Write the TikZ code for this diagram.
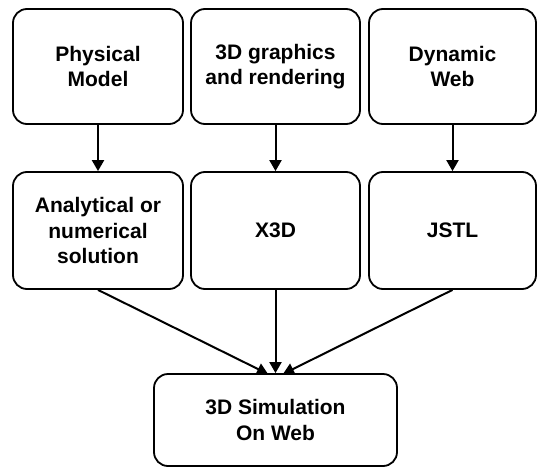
\documentclass[tikz,border=0pt]{standalone}
\usepackage{fontspec}
\setmainfont{Liberation Sans}
\usetikzlibrary{arrows.meta}
\begin{document}
\begin{tikzpicture}[x=1pt,y=-1pt,
  box/.style={draw, line width=1.8pt, rounded corners=14pt, align=center,
    font=\fontsize{21}{25.5}\selectfont\bfseries, inner sep=0pt},
  toprow/.style={box, minimum height=115pt},
  midrow/.style={box, minimum height=117pt},
  link/.style={line width=2pt, -{Triangle[length=11pt,width=12pt]}}]
\useasboundingbox (0,0) rectangle (537,468);

% sources
\node[toprow, minimum width=170pt] (phys) at (98,66.5)    {Physical\\Model};
\node[toprow, minimum width=169pt] (gfx)  at (275.5,66.5) {3D graphics\\and rendering};
\node[toprow, minimum width=167pt] (dyn)  at (452.5,66.5) {Dynamic\\Web};

% technologies
\node[midrow, minimum width=170pt] (sol)  at (98,230.5)    {Analytical or\\numerical\\solution};
\node[midrow, minimum width=169pt] (x3d)  at (275.5,230.5) {X3D};
\node[midrow, minimum width=167pt] (jstl) at (452.5,230.5) {JSTL};

% result
\node[box, minimum width=243pt, minimum height=92pt] (sim) at (275.5,420) {3D Simulation\\On Web};

% entry points of the converging arrows
\coordinate (inL) at (268,374);
\coordinate (inR) at (283,374);

\draw[link] (phys.south) -- (sol.north);
\draw[link] (gfx.south)  -- (x3d.north);
\draw[link] (dyn.south)  -- (jstl.north);

\draw[link] (sol.south)  -- (inL);
\draw[link] (x3d.south)  -- (sim.north);
\draw[link] (jstl.south) -- (inR);
\end{tikzpicture}
\end{document}
